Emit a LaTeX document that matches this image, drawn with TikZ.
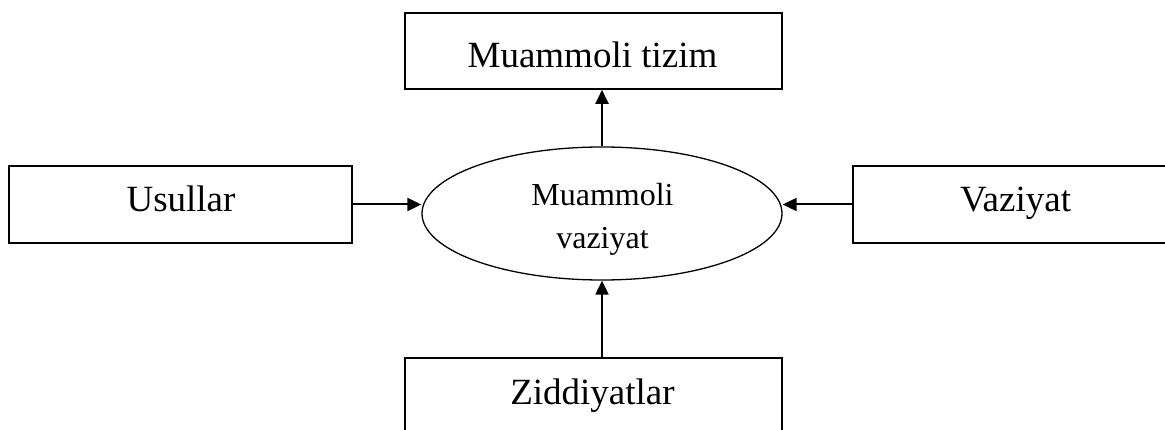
\documentclass[tikz,border=0pt]{standalone}
\usepackage{fontspec}
\setmainfont{Liberation Serif}
\usetikzlibrary{arrows.meta,shapes.geometric}
\tikzset{
  box/.style={draw, line width=1.6pt, rectangle, inner sep=0pt},
  ell/.style={draw, line width=1.3pt, ellipse, inner sep=0pt, minimum width=360pt, minimum height=133pt},
  big/.style={font=\fontsize{37}{44}\selectfont, inner sep=0pt},
  mid/.style={font=\fontsize{32}{43}\selectfont, inner sep=0pt, align=center},
  arr/.style={line width=2pt, -{Triangle[length=14pt,width=13pt]}}
}
\begin{document}
\begin{tikzpicture}[x=1pt,y=-1pt]
\useasboundingbox (0,0) rectangle (1165,430);
\clip (0,0) rectangle (1165,430);
% boxes
\node[box, minimum width=377pt, minimum height=76pt] (tizim) at (593.5,51) {};
\node[big, anchor=base] (tizimtxt) at (592.5,68) {Muammoli tizim};
\node[box, minimum width=343pt, minimum height=77pt] (usullar) at (180.5,204.5) {};
\node[big, anchor=base] (usullartxt) at (181,211.7) {Usullar};
\node[box, minimum width=324pt, minimum height=77pt] (vaziyat) at (1015,204.5) {};
\node[big, anchor=base] (vaziyattxt) at (1015.5,211.7) {Vaziyat};
\node[box, minimum width=377pt, minimum height=77pt] (zidd) at (593.5,396.5) {};
\node[big, anchor=base] (zidtxt) at (592.5,404) {Ziddiyatlar};
% ellipse
\node[ell] (ell) at (602,213.5) {};
\node[mid, anchor=north] (elltxt) at (602.5,183) {Muammoli\\vaziyat};
% arrows
\draw[arr] (ell.north) -- (ell.north |- tizim.south);
\draw[arr] (usullar.east) -- (usullar.east -| ell.west);
\draw[arr] (vaziyat.west) -- (vaziyat.west -| ell.east);
\draw[arr] (ell.south |- zidd.north) -- (ell.south);
\end{tikzpicture}
\end{document}
